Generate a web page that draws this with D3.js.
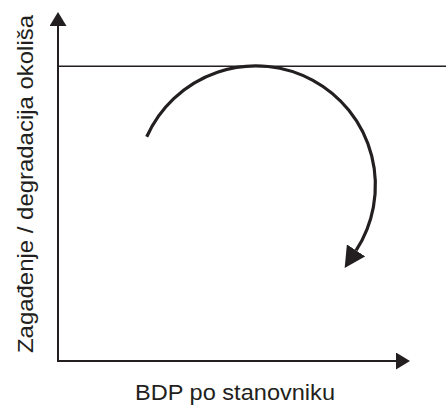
<!DOCTYPE html>
<html>
<head>
<meta charset="utf-8">
<script src="https://cdn.jsdelivr.net/npm/d3@7"></script>
<style>
  html, body { margin: 0; padding: 0; background: #fff; }
  svg { display: block; font-family: "Liberation Sans", Arial, sans-serif; }
</style>
</head>
<body>
<div id="chart"></div>
<script>
// Schematic: pollution vs GDP per capita, with a ceiling and a turning arc
const xDomain = [0, 100];
const yDomain = [0, 90];
const ceilingLevel = [76];            // horizontal limit line (y value)
const arcCenter = [51, 45.3];         // [x, y] in data units
const arcRadius = [30.8];             // in x units
const arcAngles = [-66, 123];         // degrees, clockwise from 12 o'clock
const axisLabels = ['BDP po stanovniku', 'Zagađenje / degradacija okoliša'];

const width = 446;
const height = 408;
const ink = '#231f20';

const svg = d3
  .select('#chart')
  .append('svg')
  .attr('width', width)
  .attr('height', height);

const x = d3.scaleLinear().domain(xDomain).range([58, 446]);
const y = d3.scaleLinear().domain(yDomain).range([361, 12]);

const defs = svg.append('defs');

// arrowheads for axes and arc
function addMarker(id, len, half) {
  defs
    .append('marker')
    .attr('id', id)
    .attr('markerUnits', 'userSpaceOnUse')
    .attr('viewBox', `0 ${-half} ${len} ${half * 2}`)
    .attr('refX', 0)
    .attr('refY', 0)
    .attr('markerWidth', len)
    .attr('markerHeight', half * 2)
    .attr('orient', 'auto')
    .append('path')
    .attr('d', `M0,${-half}L${len},0L0,${half}Z`)
    .attr('fill', ink);
}
addMarker('axis-head', 14, 8.5);
addMarker('arc-head', 21, 11);

const axisX0 = x(xDomain[0]);
const axisY0 = y(yDomain[0]);

// y axis
svg
  .append('line')
  .attr('x1', axisX0)
  .attr('y1', axisY0 + 1)
  .attr('x2', axisX0)
  .attr('y2', y(yDomain[1]) + 14)
  .attr('stroke', ink)
  .attr('stroke-width', 2)
  .attr('marker-end', 'url(#axis-head)');

// x axis
svg
  .append('line')
  .attr('x1', axisX0 - 1)
  .attr('y1', axisY0)
  .attr('x2', x(xDomain[1]) - 36 - 14)
  .attr('y2', axisY0)
  .attr('stroke', ink)
  .attr('stroke-width', 2)
  .attr('marker-end', 'url(#axis-head)');

// ceiling line
svg
  .append('line')
  .attr('x1', axisX0)
  .attr('x2', x(xDomain[1]))
  .attr('y1', y(ceilingLevel[0]))
  .attr('y2', y(ceilingLevel[0]))
  .attr('stroke', ink)
  .attr('stroke-width', 1.5);

// arc with arrow
const cx = x(arcCenter[0]);
const cy = y(arcCenter[1]);
const r = x(arcRadius[0]) - x(0);
const toRad = (deg) => ((deg - 90) * Math.PI) / 180;
const p = d3.path();
p.moveTo(cx + r * Math.cos(toRad(arcAngles[0])), cy + r * Math.sin(toRad(arcAngles[0])));
p.arc(cx, cy, r, toRad(arcAngles[0]), toRad(arcAngles[1]), false);

svg
  .append('path')
  .attr('d', p.toString())
  .attr('fill', 'none')
  .attr('stroke', ink)
  .attr('stroke-width', 3.2)
  .attr('marker-end', 'url(#arc-head)');

// axis titles
svg
  .append('text')
  .attr('x', 235)
  .attr('y', 400)
  .attr('text-anchor', 'middle')
  .attr('font-size', 21.5)
  .attr('textLength', 200)
  .attr('lengthAdjust', 'spacingAndGlyphs')
  .attr('fill', ink)
  .text(axisLabels[0]);

svg
  .append('text')
  .attr('transform', `translate(32.5,184) rotate(-90)`)
  .attr('text-anchor', 'middle')
  .attr('font-size', 21.5)
  .attr('textLength', 338)
  .attr('lengthAdjust', 'spacingAndGlyphs')
  .attr('fill', ink)
  .text(axisLabels[1]);
</script>
</body>
</html>
